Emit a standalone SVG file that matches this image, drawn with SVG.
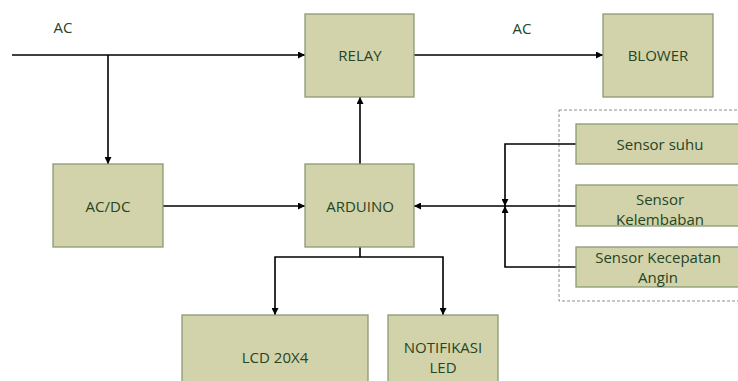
<svg xmlns="http://www.w3.org/2000/svg" width="738" height="381" viewBox="0 0 738 381">
<style>
.box{fill:#d2d3aa;stroke:#8c9a74;stroke-width:1.3}
.t{font-family:"Open Sans",Lato,sans-serif;font-size:15px;fill:#254525;text-anchor:middle;dominant-baseline:central}
.c{fill:none;stroke:#000;stroke-width:1.6}
.a{marker-end:url(#ah)}
</style>
<defs>
<marker id="ah" viewBox="0 0 10 10" refX="10" refY="5" markerWidth="9" markerHeight="7" markerUnits="userSpaceOnUse" orient="auto">
<path d="M0,0 L10,5 L0,10 z" fill="#000"/>
</marker>
</defs>
<rect width="738" height="381" fill="#fff"/>
<rect id="sensor-group" x="559" y="110" width="190" height="191" fill="none" stroke="#8c8c8c" stroke-width="1" stroke-dasharray="3,2"/>
<g id="connectors">
<path class="c a" d="M12,55 H305"/>
<path class="c a" d="M108,55 V164"/>
<path class="c a" d="M414,55 H603"/>
<path class="c a" d="M360,164 V97"/>
<path class="c a" d="M163,206 H305"/>
<path class="c a" d="M576,206 H414"/>
<path class="c a" d="M576,144 H505 V206"/>
<path class="c a" d="M576,267 H505 V206"/>
<path class="c" d="M360,247 V257"/>
<path class="c a" d="M360,257 H275 V315"/>
<path class="c a" d="M360,257 H443 V315"/>
</g>
<text class="t" x="63" y="27">AC</text>
<text class="t" x="522" y="28">AC</text>
<g id="relay"><rect class="box" x="305" y="14" width="109" height="83"/><text class="t" x="360" y="55">RELAY</text></g>
<g id="blower"><rect class="box" x="603" y="14" width="110" height="83"/><text class="t" x="658" y="55">BLOWER</text></g>
<g id="acdc"><rect class="box" x="53" y="164" width="110" height="83"/><text class="t" x="108" y="206">AC/DC</text></g>
<g id="arduino"><rect class="box" x="305" y="164" width="109" height="83"/><text class="t" x="360" y="206">ARDUINO</text></g>
<g id="lcd"><rect class="box" x="182" y="315" width="186" height="80"/><text class="t" x="275" y="357">LCD 20X4</text></g>
<g id="notifikasi"><rect class="box" x="388" y="315" width="110" height="80"/><text class="t" x="443" y="347">NOTIFIKASI</text><text class="t" x="443" y="367">LED</text></g>
<g id="sensor-suhu"><rect class="box" x="576" y="124" width="170" height="40"/><text class="t" x="660" y="144">Sensor suhu</text></g>
<g id="sensor-kelembaban"><rect class="box" x="576" y="185" width="170" height="41"/><text class="t" x="660" y="199">Sensor</text><text class="t" x="660" y="219">Kelembaban</text></g>
<g id="sensor-angin"><rect class="box" x="576" y="247" width="170" height="40"/><text class="t" x="658" y="257">Sensor Kecepatan</text><text class="t" x="658" y="277">Angin</text></g>
</svg>
